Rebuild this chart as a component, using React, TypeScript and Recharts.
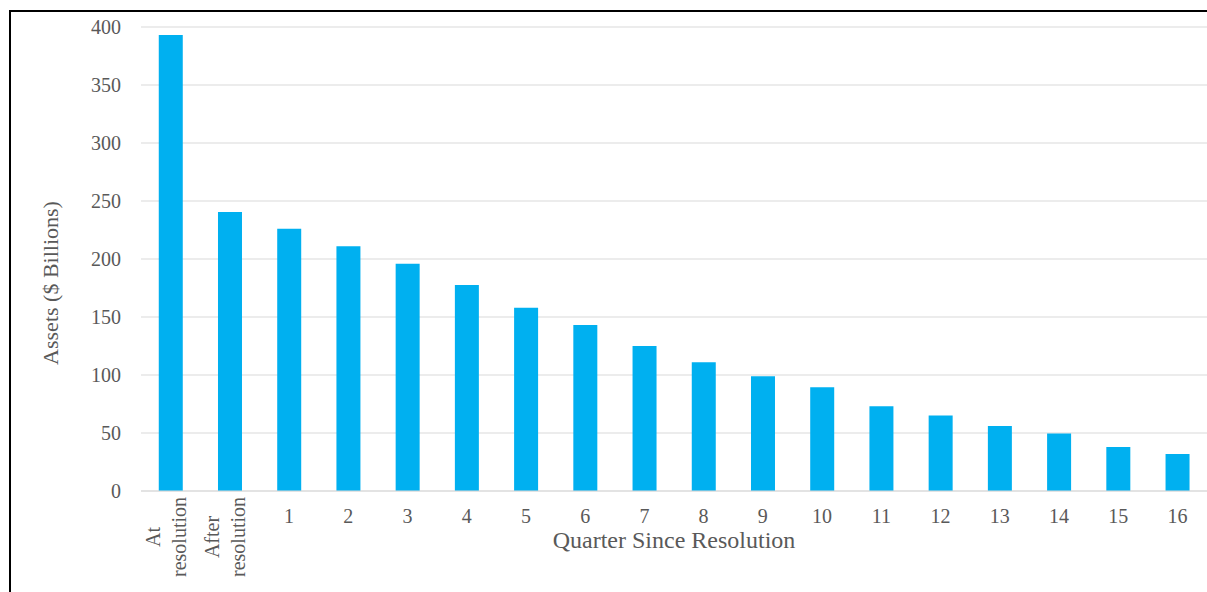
import { Bar, BarChart, CartesianGrid, Label, XAxis, YAxis } from 'recharts';

const CATEGORIES = [
  'At resolution',
  'After resolution',
  '1', '2', '3', '4', '5', '6', '7', '8', '9', '10', '11', '12', '13', '14', '15', '16',
];
const ASSETS = [393, 240.5, 226, 211, 196, 177.5, 158, 143, 125, 111, 99, 89.5, 73, 65, 56, 49.5, 38, 32];
const Y_TICKS = [0, 50, 100, 150, 200, 250, 300, 350, 400];

const data = CATEGORIES.map((name, i) => ({ name, assets: ASSETS[i] }));

const TEXT = '#595959';
const FONT = '"Liberation Serif", "Times New Roman", serif';

function QuarterTick({ x, y, payload }: any) {
  const label: string = payload.value;
  if (label.includes(' ')) {
    const [first, second] = label.split(' ');
    return (
      <g transform={`translate(${x},${y + 46}) rotate(-90)`}>
        <text textAnchor="middle" fill={TEXT} fontFamily={FONT} fontSize={20}>
          <tspan x={0} y={-11}>{first}</tspan>
          <tspan x={0} y={15}>{second}</tspan>
        </text>
      </g>
    );
  }
  return (
    <text x={x} y={y + 32} textAnchor="middle" fill={TEXT} fontFamily={FONT} fontSize={20}>
      {label}
    </text>
  );
}

function YTitle({ viewBox }: any) {
  const cx = 50;
  const cy = viewBox.y + viewBox.height / 2 + 24;
  return (
    <text
      x={cx}
      y={cy}
      transform={`rotate(-90, ${cx}, ${cy})`}
      textAnchor="middle"
      dominantBaseline="central"
      fill={TEXT}
      fontFamily={FONT}
      fontSize={22}
    >
      Assets ($ Billions)
    </text>
  );
}

export default function App() {
  return (
    <div style={{ position: 'absolute', left: 0, top: 0, width: 1207, height: 592, overflow: 'hidden', background: '#fff' }}>
      <div
        style={{
          position: 'absolute',
          left: 9,
          top: 10,
          width: 1300,
          height: 700,
          borderTop: '2px solid #000',
          borderLeft: '2px solid #000',
        }}
      />
      <div style={{ position: 'absolute', left: 0, top: 0 }}>
        <BarChart
          width={1207}
          height={592}
          data={data}
          margin={{ top: 27, right: 0, bottom: 0, left: 0 }}
          barCategoryGap="30%"
        >
          <CartesianGrid vertical={false} stroke="#d9d9d9" strokeWidth={1.2} />
          <XAxis
            dataKey="name"
            height={101}
            interval={0}
            axisLine={{ stroke: '#d9d9d9', strokeWidth: 1.2 }}
            tickLine={false}
            tickSize={0}
            tickMargin={0}
            tick={<QuarterTick />}
          >
            <Label
              value="Quarter Since Resolution"
              position="insideTop"
              offset={40}
              fill={TEXT}
              fontFamily={FONT}
              fontSize={24}
            />
          </XAxis>
          <YAxis
            width={141}
            domain={[0, 400]}
            ticks={Y_TICKS}
            axisLine={false}
            tickLine={false}
            tickMargin={14}
            tick={{ fill: TEXT, fontFamily: FONT, fontSize: 20 }}
          >
            <Label content={<YTitle />} />
          </YAxis>
          <Bar dataKey="assets" fill="#00b0f0" isAnimationActive={false} />
        </BarChart>
      </div>
    </div>
  );
}
